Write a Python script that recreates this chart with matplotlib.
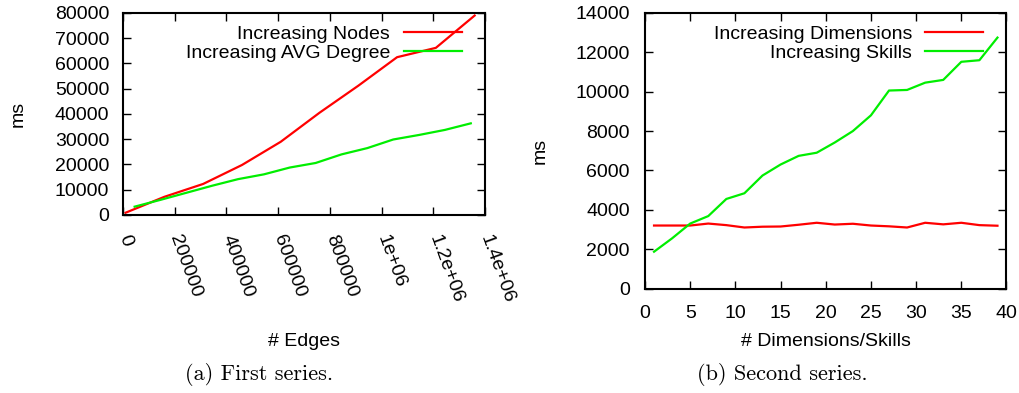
import numpy as np
import matplotlib
matplotlib.use("Agg")
import matplotlib.pyplot as plt

# (a) runtime vs number of edges
nodes_edges = [10000, 160000, 310000, 460000, 610000, 760000, 910000,
               1060000, 1210000, 1360000]
nodes_ms = [900, 7200, 12300, 19800, 29000, 40500, 51200, 62500, 66200, 79000]
degree_edges = [45000, 145000, 245000, 345000, 445000, 545000, 645000, 745000,
                845000, 945000, 1045000, 1145000, 1245000, 1345000]
degree_ms = [3300, 6000, 8800, 11600, 14200, 16100, 18800, 20600, 24000,
             26500, 29900, 31700, 33700, 36300]
edge_ticks = [0, 200000, 400000, 600000, 800000, 1000000, 1200000, 1400000]
edge_ticklabels = ["0", "200000", "400000", "600000", "800000",
                   "1e+06", "1.2e+06", "1.4e+06"]

# (b) runtime vs dimensions / skills
dims = list(range(1, 40, 2))
dims_ms = [3200, 3200, 3200, 3300, 3220, 3100, 3140, 3150, 3240, 3340,
           3250, 3290, 3200, 3160, 3100, 3340, 3260, 3340, 3220, 3190]
skills_ms = [1870, 2550, 3300, 3680, 4550, 4840, 5740, 6300, 6740, 6900,
             7420, 8000, 8800, 10060, 10090, 10460, 10600, 11520, 11600, 12750]

RED = "#ff0000"
GREEN = "#00ee00"
FS = 14

plt.rcParams["font.family"] = ["Liberation Sans", "DejaVu Sans"]
plt.rcParams["font.size"] = FS

fig = plt.figure(figsize=(10.2, 3.93), dpi=100)
W, H = 1020, 393
ax1 = fig.add_axes([123 / W, 1 - 215 / H, 362 / W, 202 / H])
ax2 = fig.add_axes([645 / W, 1 - 288.5 / H, 361.5 / W, 275.5 / H])

for ax in (ax1, ax2):
    for s in ax.spines.values():
        s.set_linewidth(1.5)
    ax.tick_params(direction="in", top=True, right=True, length=6, width=1.0,
                   labelsize=FS)

ax1.plot(nodes_edges, nodes_ms, color=RED, lw=1.6, label="Increasing Nodes")
ax1.plot(degree_edges, degree_ms, color=GREEN, lw=1.6,
         label="Increasing AVG Degree")
ax1.set_xlim(0, 1400000)
ax1.set_ylim(0, 80000)
ax1.set_yticks(np.arange(0, 80001, 10000))
ax1.set_xticks(edge_ticks)
ax1.set_xticklabels(edge_ticklabels, rotation=-70, ha="left", va="center",
                    rotation_mode="anchor")
ax1.tick_params(axis="x", pad=15)
ax1.tick_params(axis="y", pad=10)
ax1.set_xlabel("# Edges")
ax1.xaxis.set_label_coords(0.5, (215 - 341.5) / 202)
ax1.xaxis.label.set_va("center")
ax1.set_ylabel("ms")
ax1.yaxis.set_label_coords((18 - 123) / 362, 0.5)
ax1.yaxis.label.set_va("center")
ax1.legend(loc="upper right", bbox_to_anchor=((462 - 123) / 362, 1 - 12 / 202),
           frameon=False, markerfirst=False, borderpad=0, borderaxespad=0,
           handlelength=3.0, handletextpad=0.7, labelspacing=0.1,
           fontsize=FS)

ax2.plot(dims, dims_ms, color=RED, lw=1.6, label="Increasing Dimensions")
ax2.plot(dims, skills_ms, color=GREEN, lw=1.6, label="Increasing Skills")
ax2.set_xlim(0, 40)
ax2.set_ylim(0, 14000)
ax2.set_xticks(np.arange(0, 41, 5))
ax2.set_yticks(np.arange(0, 14001, 2000))
ax2.tick_params(axis="x", pad=12)
ax2.tick_params(axis="y", pad=11)
ax2.set_xlabel("# Dimensions/Skills")
ax2.xaxis.set_label_coords(0.5, (288.5 - 341) / 275.5)
ax2.xaxis.label.set_va("center")
ax2.set_ylabel("ms")
ax2.yaxis.set_label_coords((540 - 645) / 361.5, 0.5)
ax2.yaxis.label.set_va("center")
ax2.legend(loc="upper right", bbox_to_anchor=((983 - 645) / 361.5, 1 - 12 / 275.5),
           frameon=False, markerfirst=False, borderpad=0, borderaxespad=0,
           handlelength=3.0, handletextpad=0.65, labelspacing=0.1,
           fontsize=FS)

fig.text(259 / W, 1 - 375 / H, "(a) First series.", family="cmr10",
         fontsize=16, ha="center", va="center")
fig.text(782 / W, 1 - 375 / H, "(b) Second series.", family="cmr10",
         fontsize=16, ha="center", va="center")

fig.savefig("out.png", dpi=100)
